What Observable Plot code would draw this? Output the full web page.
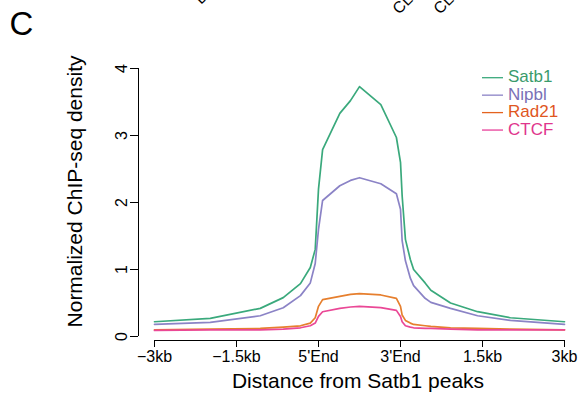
<!DOCTYPE html>
<html><head><meta charset="utf-8">
<script src="https://cdn.jsdelivr.net/npm/d3@7"></script>
<script src="https://cdn.jsdelivr.net/npm/@observablehq/plot@0.6"></script>
<style>body{margin:0;background:#fff} svg{display:block}</style>
</head><body><div id="chart"></div>
<script>
// Positions along the metagene: 0 = -3kb, 2 = 5'End, 3 = 3'End, 5 = 3kb
const positions = [0, 0.68, 1.29, 1.57, 1.78, 1.9, 1.96, 2.0, 2.05, 2.26, 2.39, 2.5, 2.76, 2.95, 3.0, 3.02, 3.06, 3.12, 3.16, 3.3, 3.37, 3.61, 3.94, 4.34, 5];
const satb1 = [0.22, 0.27, 0.42, 0.58, 0.79, 1.03, 1.3, 2.2, 2.79, 3.33, 3.52, 3.73, 3.46, 2.97, 2.6, 2.1, 1.45, 1.15, 1.0, 0.8, 0.69, 0.5, 0.37, 0.28, 0.22];
const nipbl = [0.18, 0.21, 0.31, 0.43, 0.61, 0.8, 1.09, 1.6, 2.03, 2.25, 2.33, 2.37, 2.28, 2.13, 1.9, 1.43, 1.13, 0.87, 0.76, 0.57, 0.51, 0.42, 0.31, 0.24, 0.18];
const rad21 = [0.1, 0.11, 0.12, 0.14, 0.16, 0.2, 0.28, 0.45, 0.55, 0.6, 0.63, 0.64, 0.62, 0.57, 0.45, 0.32, 0.24, 0.2, 0.18, 0.16, 0.15, 0.13, 0.12, 0.11, 0.1];
const ctcf = [0.09, 0.1, 0.1, 0.11, 0.13, 0.16, 0.2, 0.3, 0.37, 0.42, 0.44, 0.45, 0.43, 0.39, 0.3, 0.22, 0.16, 0.14, 0.13, 0.12, 0.12, 0.11, 0.1, 0.1, 0.1];

const seriesNames = ["Satb1", "Nipbl", "Rad21", "CTCF"];
const seriesValues = [satb1, nipbl, rad21, ctcf];
const lineColors = ["#3aa97c", "#8b83c6", "#e67f2e", "#ea4896"];
const legendTextColors = ["#3a9b6c", "#7a70b6", "#e0561e", "#e0358d"];
const legendLineColors = ["#3aa97c", "#8b83c6", "#e4631f", "#e8409a"];

const xTickPositions = [0, 1, 2, 3, 4, 5];
const xTickLabels = ["\u22123kb", "\u22121.5kb", "5'End", "3'End", "1.5kb", "3kb"];
const yTicks = [0, 1, 2, 3, 4];

const xTitle = "Distance from Satb1 peaks";
const yTitle = "Normalized ChIP-seq density";
const panelLabel = "C";
const topFragments = ["D", "CL", "CL"];

const rows = [];
seriesNames.forEach((name, s) => positions.forEach((p, i) => rows.push({series: name, pos: p, value: seriesValues[s][i]})));

const font = "'Liberation Sans', Arial, Helvetica, sans-serif";

const chart = Plot.plot({
  width: 581, height: 398,
  marginLeft: 138, marginRight: 1, marginTop: 68, marginBottom: 58,
  style: {fontFamily: font, fontSize: "16px", background: "#fff", color: "#000", overflow: "visible"},
  x: {domain: [0, 5], range: [154, 564], label: null},
  y: {domain: [0, 4], range: [336, 68], label: null},
  color: {domain: seriesNames, range: lineColors},
  marks: [
    Plot.ruleX([0], {x: d => d, y1: 0, y2: 4, dx: -16, stroke: "#000", strokeWidth: 1}),
    Plot.ruleY([0], {y: d => d, x1: 0, x2: 5, dy: 4, stroke: "#000", strokeWidth: 1}),
    Plot.axisY({ticks: yTicks, tickSize: 8, tickFormat: () => "", stroke: "#000", label: null}),
    Plot.text(yTicks, {y: d => d, text: d => String(d), frameAnchor: "left", textAnchor: "middle", lineAnchor: "middle",
      rotate: -90, dx: -17, fontSize: 16, fill: "#000"}),
    Plot.axisX({ticks: xTickPositions, tickSize: 7, tickPadding: 3, fontSize: 16, stroke: "#000", fill: "#000", label: null,
      tickFormat: d => xTickLabels[xTickPositions.indexOf(d)]}),
    Plot.line(rows, {x: "pos", y: "value", z: "series", stroke: "series", strokeWidth: 1.7}),
    Plot.text([xTitle], {text: d => d, frameAnchor: "bottom", textAnchor: "middle", lineAnchor: "middle",
      dx: -1.5, dy: 41, fontSize: 21, fill: "#000"}),
    Plot.text([yTitle], {text: d => d, frameAnchor: "left", textAnchor: "middle", lineAnchor: "middle",
      rotate: -90, dx: -63, dy: -13, fontSize: 21, fill: "#000"}),
    Plot.text([panelLabel], {text: d => d, frameAnchor: "top-left", textAnchor: "start", lineAnchor: "middle",
      dx: -129, dy: -44, fontSize: 33, fill: "#000"})
  ]
});

document.getElementById("chart").appendChild(chart);
const svg = d3.select(chart);

// clipped rotated labels from the panel above (only their lower parts are visible)
const fragPos = [[201, 5], [399, 15], [440, 15]];
const frag = svg.append("g").attr("font-family", font).attr("font-size", 16).attr("text-anchor", "start").attr("fill", "#000");
topFragments.forEach((t, i) => {
  frag.append("text").attr("transform", `translate(${fragPos[i][0]},${fragPos[i][1]}) rotate(-45)`).text(t);
});

// legend
const leg = svg.append("g").attr("font-family", font).attr("font-size", 17).attr("text-anchor", "start");
seriesNames.forEach((name, i) => {
  const y = 77.7 + i * 17.45;
  leg.append("line").attr("x1", 482).attr("x2", 503).attr("y1", y).attr("y2", y)
    .attr("stroke", legendLineColors[i]).attr("stroke-width", 1.3);
  leg.append("text").attr("x", 508).attr("y", y + 4.5).attr("fill", legendTextColors[i]).text(name);
});
</script>
</body></html>
